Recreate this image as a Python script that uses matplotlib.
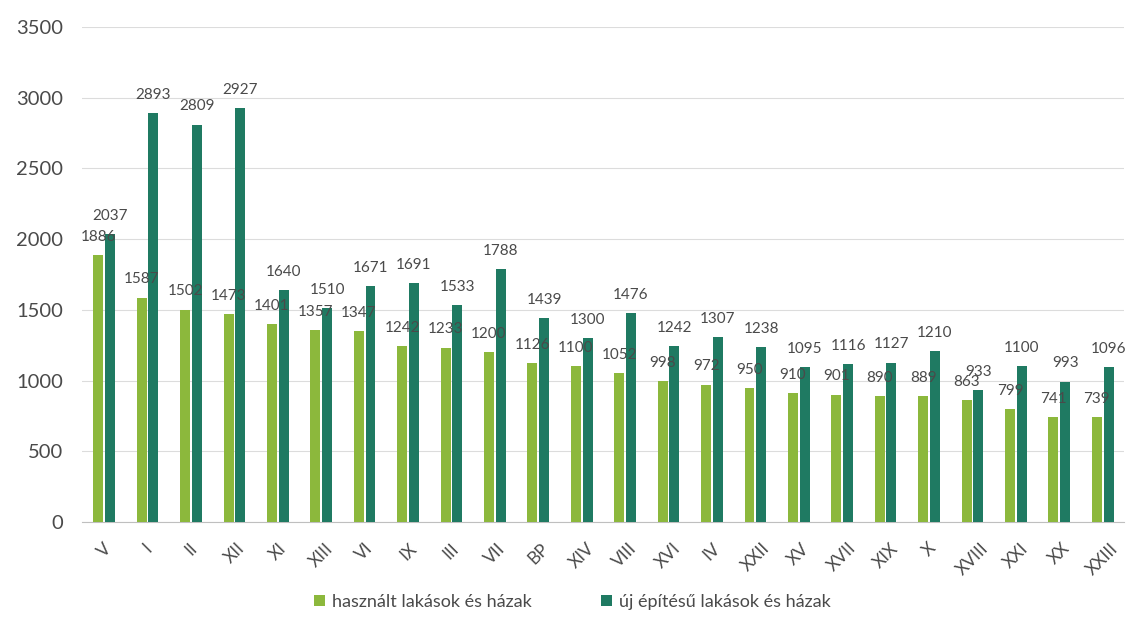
import matplotlib
matplotlib.use('Agg')
import matplotlib.pyplot as plt
import numpy as np

plt.rcParams['font.family'] = ['Lato', 'DejaVu Sans']

districts = ['V', 'I', 'II', 'XII', 'XI', 'XIII', 'VI', 'IX', 'III', 'VII', 'BP', 'XIV',
             'VIII', 'XVI', 'IV', 'XXII', 'XV', 'XVII', 'XIX', 'X', 'XVIII', 'XXI', 'XX', 'XXIII']
used = [1886, 1587, 1502, 1473, 1401, 1357, 1347, 1242, 1233, 1200, 1126, 1100,
        1052, 998, 972, 950, 910, 901, 890, 889, 863, 799, 741, 739]
new = [2037, 2893, 2809, 2927, 1640, 1510, 1671, 1691, 1533, 1788, 1439, 1300,
       1476, 1242, 1307, 1238, 1095, 1116, 1127, 1210, 933, 1100, 993, 1096]
series_names = ['használt lakások és házak', 'új építésű lakások és házak']

light = '#8cb83c'
dark = '#1f7a62'
txt = '#4a4a4a'

fig = plt.figure(figsize=(11.45, 6.39), dpi=100)
ax = fig.add_axes([0.072, 0.183, 0.910, 0.775])

x = np.arange(len(districts))
w = 0.23
b1 = ax.bar(x - 0.135, used, w, color=light, label=series_names[0], zorder=3)
b2 = ax.bar(x + 0.135, new, w, color=dark, label=series_names[1], zorder=3)

for bars in (b1, b2):
    for r in bars:
        ax.annotate(str(int(r.get_height())), (r.get_x() + r.get_width() / 2, r.get_height()),
                    xytext=(0, 8), textcoords='offset points', ha='center', va='bottom',
                    fontsize=11, color=txt, zorder=4)

ax.set_xlim(-0.5, len(districts) - 0.5)
ax.set_ylim(0, 3500)
ax.set_yticks(np.arange(0, 3501, 500))
ax.set_xticks(x)
ax.set_xticklabels(districts, rotation=45, ha='center', va='top', fontsize=12.5, color=txt)
ax.tick_params(axis='y', labelsize=14.5, colors=txt, length=0, pad=14)
ax.tick_params(axis='x', length=0, pad=13)
ax.grid(axis='y', color='#dcdcdc', linewidth=0.8, zorder=0)
for s in ['top', 'right', 'left']:
    ax.spines[s].set_visible(False)
ax.spines['bottom'].set_color('#bfbfbf')

fig.legend(handles=[b1, b2], loc='lower center', bbox_to_anchor=(0.5, 0.02), ncol=2, frameon=False,
           fontsize=13, handlelength=0.6, handleheight=0.6, columnspacing=3.8, handletextpad=0.4,
           labelcolor=txt)

fig.savefig('out.png', dpi=100)
